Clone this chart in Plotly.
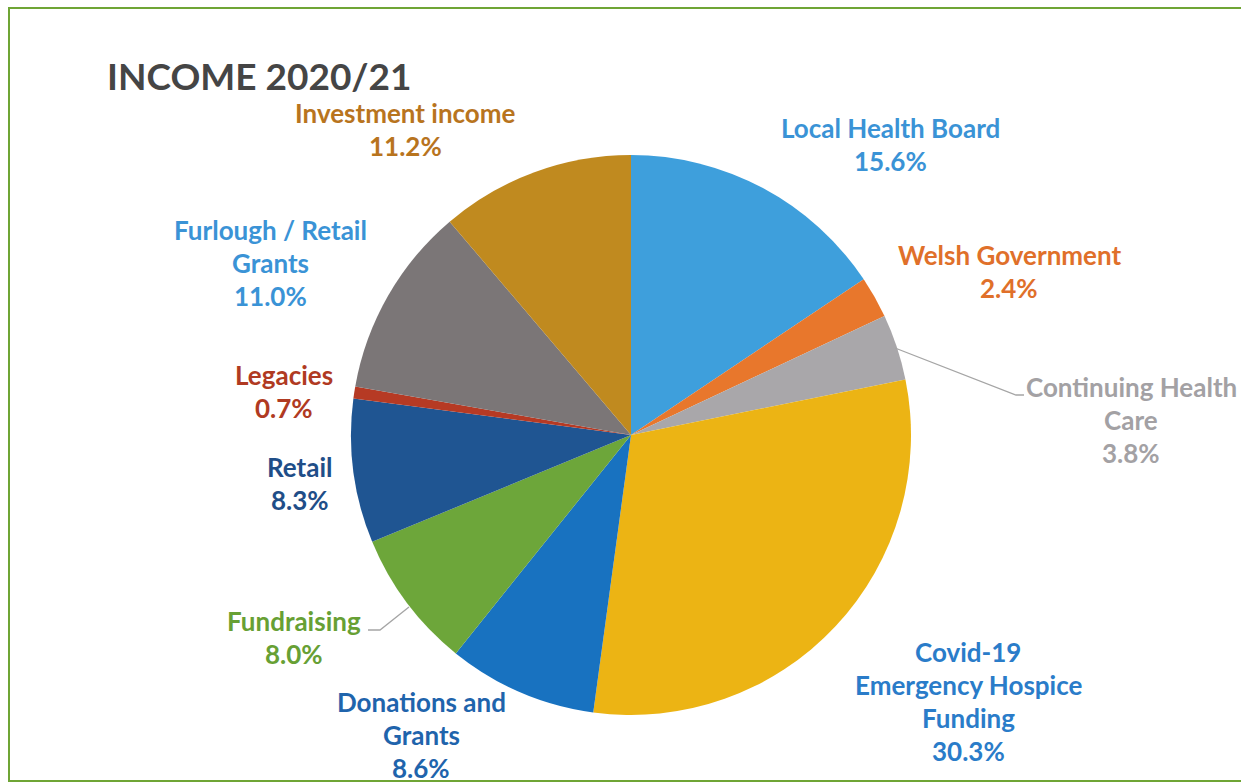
import plotly.graph_objects as go

W, H = 1241, 784

# Income sources, clockwise from 12 o'clock ("\n" marks a line break in the label)
categories = [
    "Local Health Board",
    "Welsh Government",
    "Continuing Health\nCare",
    "Covid-19\nEmergency Hospice\nFunding",
    "Donations and\nGrants",
    "Fundraising",
    "Retail",
    "Legacies",
    "Furlough / Retail\nGrants",
    "Investment income",
]
shares = [15.6, 2.4, 3.8, 30.3, 8.6, 8.0, 8.3, 0.7, 11.0, 11.2]

slice_colors = [
    "#3E9FDC", "#E8772C", "#A9A7AA", "#ECB414", "#1872C0",
    "#6DA63A", "#1F5592", "#B63A24", "#7B7677", "#C08A1F",
]
label_colors = [
    "#3A93D6", "#E0702A", "#A3A1A4", "#2A7CC9", "#1F64AC",
    "#67A034", "#1F4E88", "#B03A22", "#3A93D6", "#B8741E",
]
# label anchor (centre x, first-line y) in pixels
label_pos = [
    (890, 128), (1009, 255), (1131, 387), (968, 652), (421, 702),
    (294, 621), (300, 467), (284, 375), (270, 230), (405, 113),
]
LINE_STEP = 33


def px(x):
    return x / W


def py(y):
    return 1 - y / H


cx, cy, r = 631, 435, 280

fig = go.Figure(
    go.Pie(
        labels=[c.replace("\n", " ") for c in categories],
        values=shares,
        sort=False,
        direction="clockwise",
        rotation=0,
        textinfo="none",
        hoverinfo="label+percent",
        marker=dict(colors=slice_colors, line=dict(width=0)),
        domain=dict(x=[px(cx - r), px(cx + r)], y=[py(cy + r), py(cy - r)]),
        showlegend=False,
    )
)

annotations = []
for name, val, col, (x, y0) in zip(categories, shares, label_colors, label_pos):
    lines = name.split("\n") + [f"{val:.1f}%"]
    for i, line in enumerate(lines):
        annotations.append(
            dict(
                x=px(x), y=py(y0 + i * LINE_STEP), xref="paper", yref="paper",
                text=line, showarrow=False, xanchor="center", yanchor="middle",
                font=dict(family="Lato", size=26, color=col, weight=700),
            )
        )

annotations.append(
    dict(
        x=px(105), y=py(75), xref="paper", yref="paper", text="INCOME 2020/21",
        showarrow=False, xanchor="left", yanchor="middle",
        font=dict(family="Lato", size=37, color="#454545", weight=700),
    )
)


def path(points):
    return "M " + " L ".join(f"{px(x)},{py(y)}" for x, y in points)


shapes = [
    # outer frame
    dict(type="rect", xref="paper", yref="paper",
         x0=px(9), x1=px(1260), y0=py(781), y1=py(8),
         line=dict(color="#6FA535", width=2), fillcolor="rgba(0,0,0,0)"),
    # leader lines
    dict(type="path", xref="paper", yref="paper",
         path=path([(895, 348), (1016, 395), (1024, 395)]),
         line=dict(color="#A5A5A5", width=1.3)),
    dict(type="path", xref="paper", yref="paper",
         path=path([(409, 607), (380, 630), (368, 630)]),
         line=dict(color="#A5A5A5", width=1.3)),
]

fig.update_layout(
    width=W, height=H,
    margin=dict(l=0, r=0, t=0, b=0),
    paper_bgcolor="white",
    plot_bgcolor="white",
    annotations=annotations,
    shapes=shapes,
)

fig.write_html("out.html")
